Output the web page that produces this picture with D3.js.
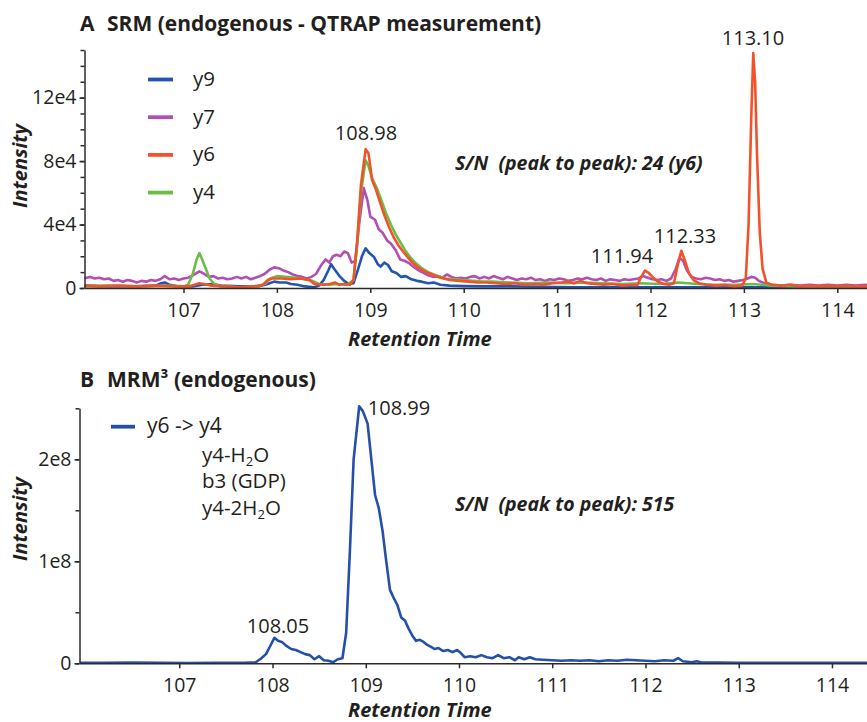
<!DOCTYPE html>
<html>
<head>
<meta charset="utf-8">
<script src="https://cdn.jsdelivr.net/npm/d3@7"></script>
<style>
  html, body { margin: 0; padding: 0; background: #fff; }
  svg { display: block; font-family: "Open Sans", "Noto Sans", sans-serif; }
  .axis path, .axis line { stroke: #2b2b2b; stroke-width: 1.5; }
  .axis text { fill: #231f20; font-size: 19.5px; font-family: "Open Sans", sans-serif; }
</style>
</head>
<body>
<svg id="chart" width="867" height="722"></svg>
<script>
// ---------- data (intensity in 1e4 counts for A, 1e8 counts for B) ----------
const y9 = [[105.93,0.15],[106.2,0.1],[106.5,0.1],[106.7,0.15],[106.76,0.3],[106.8,0.35],[106.85,0.2],[106.95,0.1],[107.1,0.1],[107.2,0.2],[107.3,0.25],[107.4,0.15],[107.6,0.1],[107.8,0.1],[107.9,0.25],[107.97,0.4],[108.03,0.35],[108.1,0.35],[108.15,0.25],[108.22,0.2],[108.3,0.1],[108.4,0.05],[108.45,0.15],[108.5,0.5],[108.55,1.1],[108.58,1.5],[108.62,1.15],[108.67,0.75],[108.72,0.45],[108.77,0.25],[108.82,0.3],[108.87,1.2],[108.91,2.0],[108.95,2.5],[108.99,2.2],[109.04,1.95],[109.08,1.5],[109.11,1.35],[109.15,1.6],[109.19,1.45],[109.23,1.05],[109.28,0.95],[109.33,0.7],[109.38,0.75],[109.44,0.55],[109.5,0.45],[109.55,0.4],[109.62,0.3],[109.68,0.35],[109.75,0.2],[109.85,0.15],[110.0,0.12],[110.2,0.1],[110.5,0.1],[110.8,0.08],[111.2,0.05],[111.6,0.05],[112.0,0.05],[112.4,0.05],[112.8,0.05],[113.2,0.05],[113.6,0.05],[114.0,0.05],[114.4,0.05]];

const y7 = [[105.93,0.6],[106.0,0.7],[106.05,0.6],[106.1,0.65],[106.15,0.55],[106.2,0.6],[106.25,0.45],[106.3,0.5],[106.35,0.4],[106.4,0.5],[106.45,0.45],[106.5,0.35],[106.55,0.45],[106.6,0.4],[106.65,0.5],[106.7,0.45],[106.75,0.55],[106.8,0.75],[106.85,0.55],[106.9,0.6],[106.95,0.5],[107.0,0.6],[107.05,0.65],[107.1,0.8],[107.17,1.05],[107.22,0.9],[107.27,0.7],[107.32,0.75],[107.37,0.6],[107.42,0.65],[107.47,0.55],[107.52,0.6],[107.57,0.7],[107.62,0.6],[107.67,0.7],[107.72,0.55],[107.77,0.65],[107.82,0.75],[107.87,0.9],[107.92,1.15],[107.97,1.3],[108.02,1.25],[108.07,1.1],[108.12,1.0],[108.17,0.85],[108.22,0.75],[108.27,0.7],[108.32,0.6],[108.37,0.7],[108.42,0.9],[108.47,1.4],[108.52,1.8],[108.56,1.6],[108.6,2.0],[108.64,2.1],[108.68,2.0],[108.72,2.3],[108.76,2.2],[108.8,1.6],[108.84,1.7],[108.88,4.0],[108.93,6.3],[108.97,5.5],[109.0,4.5],[109.05,4.3],[109.09,3.7],[109.13,3.5],[109.18,3.0],[109.22,2.8],[109.27,2.4],[109.32,1.8],[109.37,1.7],[109.42,1.55],[109.47,1.3],[109.52,1.1],[109.57,0.95],[109.62,0.8],[109.67,0.7],[109.72,0.75],[109.77,0.65],[109.82,0.85],[109.87,0.7],[109.92,0.6],[109.97,0.65],[110.02,0.6],[110.07,0.7],[110.12,0.75],[110.17,0.6],[110.22,0.7],[110.27,0.6],[110.32,0.75],[110.37,0.65],[110.42,0.55],[110.47,0.7],[110.52,0.6],[110.57,0.5],[110.62,0.6],[110.67,0.55],[110.72,0.65],[110.77,0.5],[110.82,0.55],[110.87,0.45],[110.92,0.55],[110.97,0.5],[111.02,0.6],[111.07,0.55],[111.12,0.45],[111.17,0.5],[111.22,0.6],[111.27,0.55],[111.32,0.65],[111.37,0.55],[111.42,0.5],[111.47,0.6],[111.52,0.45],[111.57,0.55],[111.62,0.5],[111.67,0.45],[111.72,0.55],[111.77,0.5],[111.82,0.55],[111.87,0.6],[111.92,0.75],[111.97,0.65],[112.02,0.55],[112.07,0.5],[112.12,0.55],[112.17,0.45],[112.22,0.6],[112.27,1.2],[112.31,1.9],[112.35,1.7],[112.39,1.1],[112.44,0.7],[112.49,0.6],[112.54,0.55],[112.59,0.65],[112.64,0.6],[112.69,0.5],[112.74,0.55],[112.79,0.45],[112.84,0.5],[112.89,0.4],[112.94,0.45],[112.99,0.5],[113.04,0.6],[113.08,0.7],[113.12,0.65],[113.16,0.45],[113.2,0.35],[113.25,0.25],[113.3,0.2],[113.4,0.15],[113.5,0.2],[113.6,0.15],[113.7,0.2],[113.8,0.15],[113.9,0.2],[114.0,0.15],[114.1,0.2],[114.2,0.15],[114.3,0.2],[114.4,0.15]];

const y6 = [[105.93,0.15],[106.1,0.1],[106.3,0.15],[106.5,0.1],[106.7,0.15],[106.9,0.1],[107.05,0.1],[107.12,0.2],[107.17,0.3],[107.22,0.25],[107.3,0.15],[107.45,0.1],[107.6,0.05],[107.75,0.1],[107.85,0.2],[107.9,0.5],[107.95,0.6],[108.05,0.6],[108.15,0.55],[108.25,0.6],[108.35,0.5],[108.4,0.25],[108.5,0.2],[108.57,0.25],[108.62,0.35],[108.67,0.2],[108.72,0.25],[108.78,0.2],[108.82,0.5],[108.86,3.0],[108.9,6.5],[108.95,8.75],[108.98,8.5],[109.02,6.8],[109.06,6.2],[109.11,5.3],[109.15,4.6],[109.2,3.85],[109.25,3.2],[109.3,2.7],[109.35,2.3],[109.4,1.95],[109.45,1.6],[109.5,1.35],[109.58,1.05],[109.66,0.85],[109.75,0.65],[109.85,0.5],[109.95,0.45],[110.05,0.4],[110.15,0.35],[110.25,0.35],[110.35,0.3],[110.45,0.25],[110.55,0.3],[110.65,0.2],[110.75,0.25],[110.85,0.2],[110.95,0.3],[111.05,0.35],[111.12,0.4],[111.18,0.3],[111.25,0.45],[111.32,0.3],[111.4,0.25],[111.5,0.2],[111.6,0.25],[111.7,0.15],[111.8,0.2],[111.86,0.2],[111.9,0.7],[111.94,1.1],[111.98,0.95],[112.03,0.65],[112.08,0.4],[112.14,0.25],[112.2,0.2],[112.25,0.3],[112.29,1.4],[112.33,2.35],[112.37,1.7],[112.41,0.95],[112.46,0.5],[112.52,0.3],[112.6,0.2],[112.7,0.15],[112.8,0.2],[112.9,0.1],[112.98,0.15],[113.02,0.6],[113.05,4.0],[113.08,11.0],[113.1,14.8],[113.12,13.0],[113.14,8.5],[113.17,3.5],[113.2,1.2],[113.24,0.35],[113.3,0.2],[113.4,0.15],[113.5,0.2],[113.6,0.1],[113.7,0.15],[113.8,0.1],[113.9,0.15],[114.0,0.1],[114.1,0.15],[114.2,0.1],[114.4,0.1]];

const y4 = [[105.93,0.1],[106.2,0.15],[106.5,0.1],[106.8,0.15],[107.0,0.1],[107.05,0.2],[107.1,0.9],[107.14,1.8],[107.17,2.2],[107.2,1.8],[107.24,1.2],[107.28,0.6],[107.33,0.25],[107.4,0.1],[107.6,0.05],[107.8,0.1],[107.88,0.3],[107.93,0.6],[108.0,0.75],[108.1,0.7],[108.2,0.65],[108.3,0.55],[108.38,0.45],[108.45,0.25],[108.55,0.2],[108.65,0.25],[108.75,0.2],[108.82,0.5],[108.86,2.8],[108.9,6.0],[108.95,8.05],[108.98,7.7],[109.02,6.9],[109.07,6.3],[109.12,5.5],[109.17,4.7],[109.22,4.0],[109.27,3.4],[109.32,2.9],[109.37,2.4],[109.42,2.0],[109.48,1.6],[109.55,1.25],[109.62,1.0],[109.7,0.8],[109.8,0.6],[109.9,0.55],[110.0,0.5],[110.1,0.45],[110.2,0.4],[110.3,0.4],[110.5,0.35],[110.7,0.3],[110.9,0.35],[111.1,0.3],[111.3,0.35],[111.5,0.3],[111.7,0.25],[111.9,0.3],[112.1,0.25],[112.3,0.35],[112.5,0.25],[112.7,0.2],[112.9,0.2],[113.1,0.25],[113.3,0.15],[113.6,0.1],[114.0,0.1],[114.4,0.1]];

const mrm3 = [[105.93,0.005],[106.2,0.005],[106.5,0.008],[106.8,0.005],[107.1,0.003],[107.4,0.005],[107.7,0.006],[107.82,0.01],[107.88,0.05],[107.93,0.09],[107.97,0.16],[108.02,0.25],[108.06,0.22],[108.1,0.21],[108.15,0.17],[108.2,0.14],[108.25,0.13],[108.3,0.11],[108.35,0.09],[108.4,0.08],[108.45,0.04],[108.5,0.07],[108.55,0.03],[108.6,0.025],[108.65,0.01],[108.7,0.04],[108.75,0.05],[108.79,0.3],[108.83,1.1],[108.87,2.0],[108.93,2.52],[108.97,2.47],[109.02,2.35],[109.06,2.0],[109.1,1.65],[109.14,1.52],[109.18,1.3],[109.22,1.0],[109.26,0.72],[109.3,0.64],[109.34,0.57],[109.38,0.45],[109.42,0.42],[109.46,0.34],[109.5,0.27],[109.54,0.22],[109.58,0.23],[109.62,0.21],[109.66,0.18],[109.7,0.16],[109.74,0.14],[109.78,0.15],[109.83,0.12],[109.88,0.13],[109.93,0.11],[109.98,0.13],[110.02,0.1],[110.06,0.06],[110.12,0.07],[110.18,0.06],[110.24,0.08],[110.3,0.06],[110.36,0.05],[110.42,0.08],[110.48,0.05],[110.54,0.06],[110.6,0.03],[110.64,0.06],[110.7,0.04],[110.76,0.06],[110.82,0.04],[110.9,0.035],[111.0,0.03],[111.1,0.025],[111.2,0.03],[111.3,0.025],[111.4,0.03],[111.5,0.02],[111.6,0.03],[111.7,0.025],[111.8,0.035],[111.9,0.03],[112.0,0.025],[112.1,0.02],[112.2,0.03],[112.3,0.025],[112.35,0.05],[112.4,0.02],[112.5,0.01],[112.55,0.02],[112.6,0.008],[112.8,0.008],[113.0,0.005],[113.3,0.006],[113.6,0.005],[114.0,0.006],[114.4,0.005]];

const seriesA = [
  { name: 'y7', data: y7, color: '#b24fb3' },
  { name: 'y9', data: y9, color: '#2254b2' },
  { name: 'y4', data: y4, color: '#6cbd45' },
  { name: 'y6', data: y6, color: '#f2512a' }
];
const legendOrderA = ['y9', 'y7', 'y6', 'y4'];

const xTicks = [107, 108, 109, 110, 111, 112, 113, 114];
const yTicksA = [0, 4, 8, 12];
const yMinorA = [0,1,2,3,4,5,6,7,8,9,10,11,12,13,14,15];
const yTicksB = [0, 1, 2];
const yMinorB = [0, 0.5, 1, 1.5, 2, 2.5];

const peaksA = [
  { t: 108.98, label: '108.98', x: 366, y: 140 },
  { t: 113.10, label: '113.10', x: 753, y: 45 },
  { t: 111.94, label: '111.94', x: 622, y: 263 },
  { t: 112.33, label: '112.33', x: 685, y: 243 }
];
const peaksB = [
  { t: 108.99, label: '108.99', x: 399, y: 415 },
  { t: 108.05, label: '108.05', x: 278, y: 633 }
];

const TEXT = '#231f20';
const svg = d3.select('#chart');

// ---------- 通用面板 ----------
function panel(opt) {
  const g = svg.append('g');
  const pxPerMin = opt.pxPerMin;
  const x = d3.scaleLinear()
    .domain([opt.t0, 114.4])
    .range([opt.left, opt.left + (114.4 - opt.t0) * pxPerMin]);
  const y = d3.scaleLinear().domain([0, opt.yMax]).range([opt.bottom, opt.top]);

  const clipId = 'clip-' + opt.id;
  svg.append('clipPath').attr('id', clipId)
    .append('rect')
    .attr('x', opt.left).attr('y', opt.top - 20)
    .attr('width', 867 - opt.left).attr('height', opt.bottom - opt.top + 20);

  const line = d3.line().x(d => x(d[0])).y(d => y(d[1]));
  g.append('g').attr('clip-path', `url(#${clipId})`)
    .selectAll('path')
    .data(opt.series)
    .join('path')
    .attr('d', d => line(d.data))
    .attr('fill', 'none')
    .attr('stroke', d => d.color)
    .attr('stroke-width', 2.6)
    .attr('stroke-linejoin', 'round');

  // x axis
  g.append('g').attr('class', 'axis')
    .attr('transform', `translate(0,${opt.bottom})`)
    .call(d3.axisBottom(x).tickValues(xTicks).tickSize(5).tickSizeOuter(0).tickPadding(5).tickFormat(d3.format('d')))
    .call(a => a.selectAll('text').attr('dy', '0.95em'));

  // y axis minor
  g.append('g').attr('class', 'axis')
    .attr('transform', `translate(${opt.left},0)`)
    .call(d3.axisLeft(y).tickValues(opt.yMinor).tickSize(4).tickFormat(''))
    .call(a => a.select('.domain').remove());
  // y axis major
  g.append('g').attr('class', 'axis')
    .attr('transform', `translate(${opt.left},0)`)
    .call(d3.axisLeft(y).tickValues(opt.yTicks).tickSize(5).tickSizeOuter(0).tickPadding(3)
      .tickFormat(d => d === 0 ? '0' : d + opt.unit));

  // axis titles
  g.append('text')
    .attr('transform', `translate(27,${opt.yLabelY}) rotate(-90)`)
    .attr('text-anchor', 'middle')
    .attr('font-size', 20).attr('font-weight', 'bold').attr('font-style', 'italic')
    .attr('fill', TEXT)
    .text('Intensity');
  g.append('text')
    .attr('x', 348).attr('y', opt.xLabelY)
    .attr('font-size', 20).attr('font-weight', 'bold').attr('font-style', 'italic')
    .attr('fill', TEXT)
    .text('Retention Time');

  // panel title
  g.append('text').attr('x', 80).attr('y', opt.titleY)
    .attr('font-size', 21).attr('font-weight', 'bold').attr('fill', TEXT).text(opt.letter);
  g.append('text').attr('x', 107).attr('y', opt.titleY)
    .attr('font-size', 21).attr('font-weight', 'bold').attr('fill', TEXT).text(opt.title);

  // peak labels
  g.selectAll('text.peak')
    .data(opt.peaks)
    .join('text')
    .attr('class', 'peak')
    .attr('x', d => d.x).attr('y', d => d.y)
    .attr('text-anchor', 'middle')
    .attr('font-size', 20).attr('fill', TEXT)
    .text(d => d.label);

  // S/N
  g.append('text').attr('x', 455).attr('y', opt.snY)
    .attr('font-size', 19.5).attr('font-weight', 'bold').attr('font-style', 'italic')
    .attr('fill', TEXT).attr('xml:space', 'preserve')
    .text(opt.sn);

  return g;
}

// ---------- A ----------
const gA = panel({
  id: 'a', t0: 105.94, left: 84.5, pxPerMin: 93.4,
  top: 50, bottom: 288, yMax: 15, unit: 'e4',
  yTicks: yTicksA, yMinor: yMinorA, series: seriesA, peaks: peaksA,
  yLabelY: 166, xLabelY: 346, titleY: 31,
  letter: 'A', title: 'SRM (endogenous - QTRAP measurement)',
  snY: 170, sn: 'S/N  (peak to peak): 24 (y6)'
});

const legA = gA.selectAll('g.leg')
  .data(legendOrderA.map(n => seriesA.find(s => s.name === n)))
  .join('g')
  .attr('class', 'leg')
  .attr('transform', (d, i) => `translate(148,${79.5 + i * 37.7})`);
legA.append('line').attr('x1', 0).attr('x2', 25)
  .attr('stroke', d => d.color).attr('stroke-width', 3.8);
legA.append('text').attr('x', 45).attr('y', 6.5)
  .attr('font-size', 20.5).attr('fill', TEXT).text(d => d.name);

// ---------- B ----------
const gB = panel({
  id: 'b', t0: 105.93, left: 79.5, pxPerMin: 93.24,
  top: 408.3, bottom: 663.3, yMax: 2.5, unit: 'e8',
  yTicks: yTicksB, yMinor: yMinorB,
  series: [{ name: 'y6 -> y4', data: mrm3, color: '#2450aa' }],
  peaks: peaksB,
  yLabelY: 519, xLabelY: 717, titleY: 387,
  letter: 'B', title: 'MRM\u00b3 (endogenous)',
  snY: 511, sn: 'S/N  (peak to peak): 515'
});

gB.append('line').attr('x1', 111).attr('x2', 135).attr('y1', 426.7).attr('y2', 426.7)
  .attr('stroke', '#2450aa').attr('stroke-width', 3.8);
gB.append('text').attr('x', 147).attr('y', 433).attr('font-size', 21).attr('fill', TEXT).text('y6 -> y4');

const legBLines = [
  { parts: ['y4-H', '2', 'O'], y: 462 },
  { parts: ['b3 (GDP)'], y: 488 },
  { parts: ['y4-2H', '2', 'O'], y: 515 }
];
legBLines.forEach(l => {
  const t = gB.append('text').attr('x', 202).attr('y', l.y).attr('font-size', 20.5).attr('fill', TEXT);
  t.append('tspan').text(l.parts[0]);
  if (l.parts.length > 1) {
    t.append('tspan').attr('font-size', 13).attr('dy', 4).text(l.parts[1]);
    t.append('tspan').attr('dy', -4).text(l.parts[2]);
  }
});
</script>
</body>
</html>
